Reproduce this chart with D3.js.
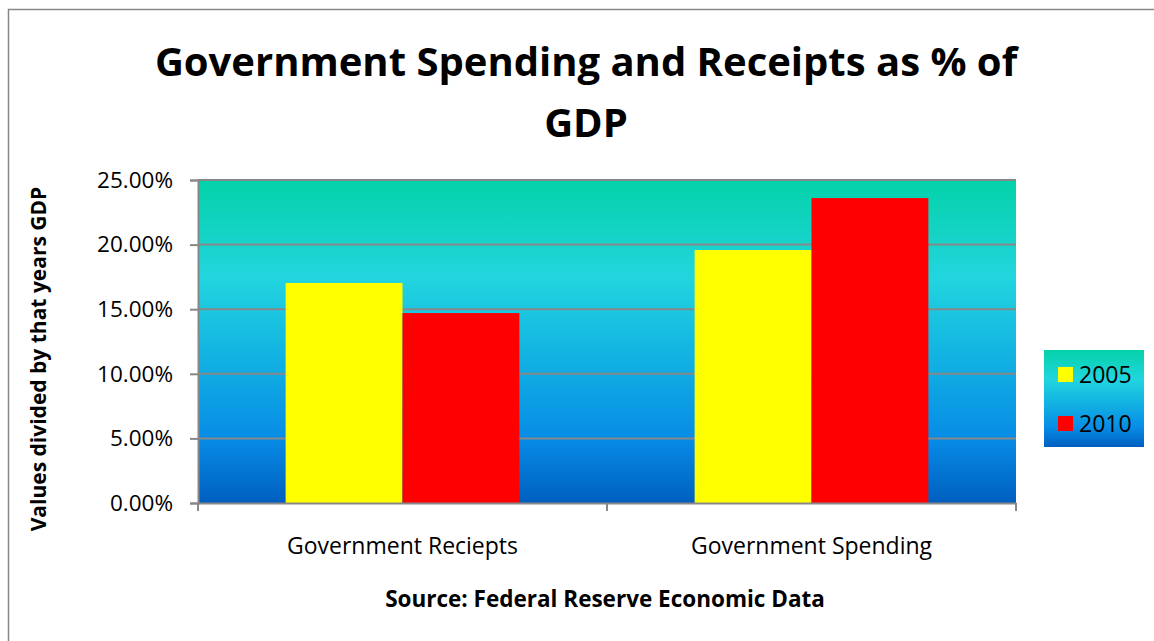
<!DOCTYPE html>
<html>
<head>
<meta charset="utf-8">
<script src="https://cdn.jsdelivr.net/npm/d3@7"></script>
<style>
  body { margin: 0; background: #fff; }
  text { font-family: "Open Sans", "Noto Sans", sans-serif; fill: #000; }
</style>
</head>
<body>
<script>
// data
var categories = ["Government Reciepts", "Government Spending"];
var years = ["2005", "2010"];
var values2005 = [0.1703, 0.1958];
var values2010 = [0.1470, 0.2360];
var yTicks = [0, 0.05, 0.10, 0.15, 0.20, 0.25];
var colors = ["#ffff00", "#ff0000"];

var W = 1154, H = 641;
var plot = {left: 198, right: 1016, top: 180, bottom: 503};

var svg = d3.select("body").append("svg")
    .attr("width", W).attr("height", H);

// background gradient shared by plot area and legend
var defs = svg.append("defs");
var grad = defs.append("linearGradient").attr("id", "bg")
    .attr("x1", 0).attr("y1", 0).attr("x2", 0).attr("y2", 1);
[[0, "#04d2a9"], [0.3, "#22d5de"], [0.55, "#12b2e2"], [0.8, "#078ce6"], [1, "#005fbf"]]
  .forEach(function(s) {
    grad.append("stop").attr("offset", s[0]).attr("stop-color", s[1]);
  });

// chart border
svg.append("rect")
    .attr("x", 8.5).attr("y", 9.5)
    .attr("width", W).attr("height", H)
    .attr("fill", "none").attr("stroke", "#888").attr("stroke-width", 1.5);

// title
var title = svg.append("text")
    .attr("text-anchor", "middle")
    .style("font-size", "40px").style("font-weight", "bold");
title.append("tspan").attr("x", 586).attr("y", 76).text("Government Spending and Receipts as % of");
title.append("tspan").attr("x", 586).attr("y", 137).text("GDP");

var x0 = d3.scaleBand().domain(categories)
    .range([plot.left, plot.right]).paddingInner(0).paddingOuter(0);
var x1 = d3.scaleBand().domain(years)
    .range([0, x0.bandwidth()]).paddingInner(0).paddingOuter(0.75);
var y = d3.scaleLinear().domain([0, 0.25]).range([plot.bottom, plot.top]);

svg.append("rect")
    .attr("x", plot.left).attr("y", plot.top)
    .attr("width", plot.right - plot.left).attr("height", plot.bottom - plot.top)
    .attr("fill", "url(#bg)");

// gridlines
svg.append("g").selectAll("line")
    .data(yTicks.slice(1))
    .enter().append("line")
    .attr("x1", plot.left).attr("x2", plot.right)
    .attr("y1", function(d) { return y(d); })
    .attr("y2", function(d) { return y(d); })
    .attr("stroke", "#888").attr("stroke-width", 2);

// bars
var rows = categories.map(function(c, i) {
  return [{cat: c, year: "2005", v: values2005[i]}, {cat: c, year: "2010", v: values2010[i]}];
});
svg.append("g").selectAll("g")
    .data(rows)
    .enter().append("g")
    .attr("transform", function(d) { return "translate(" + x0(d[0].cat) + ",0)"; })
    .selectAll("rect")
    .data(function(d) { return d; })
    .enter().append("rect")
    .attr("x", function(d) { return x1(d.year); })
    .attr("width", x1.bandwidth())
    .attr("y", function(d) { return y(d.v); })
    .attr("height", function(d) { return y(0) - y(d.v); })
    .attr("fill", function(d, i) { return colors[i]; });

// y axis
var yAxis = svg.append("g")
    .attr("transform", "translate(" + plot.left + ",0)")
    .call(d3.axisLeft(y).tickValues(yTicks).tickFormat(d3.format(".2%")).tickSizeOuter(0).tickSize(8).tickPadding(17));
yAxis.selectAll("path, line").attr("stroke", "#888").attr("stroke-width", 2);
yAxis.selectAll("text").style("font-size", "22.5px").style("font-family", "'Open Sans', sans-serif").attr("fill", "#000");

// x axis
var xAxis = svg.append("g")
    .attr("transform", "translate(0," + plot.bottom + ")")
    .call(d3.axisBottom(x0).tickSize(0).tickPadding(35));
xAxis.select("path").attr("stroke", "#888").attr("stroke-width", 2);
xAxis.selectAll("text").style("font-size", "23px").style("font-family", "'Open Sans', sans-serif").attr("fill", "#000");
var bounds = [plot.left, x0(categories[1]), plot.right];
xAxis.selectAll(".sep").data(bounds).enter().append("line")
    .attr("x1", function(d) { return d; }).attr("x2", function(d) { return d; })
    .attr("y1", 0).attr("y2", 8)
    .attr("stroke", "#888").attr("stroke-width", 2);

// axis titles
svg.append("text")
    .attr("transform", "translate(46,359) rotate(-90)")
    .attr("text-anchor", "middle")
    .style("font-size", "21px").style("font-weight", "bold")
    .text("Values divided by that years GDP");
svg.append("text")
    .attr("x", 605).attr("y", 607)
    .attr("text-anchor", "middle")
    .style("font-size", "22.5px").style("font-weight", "bold")
    .text("Source: Federal Reserve Economic Data");

// legend
var legend = svg.append("g").attr("transform", "translate(1044,350)");
legend.append("rect").attr("width", 100).attr("height", 97).attr("fill", "url(#bg)");
var item = legend.selectAll(".item").data(years).enter().append("g")
    .attr("transform", function(d, i) { return "translate(14," + (17 + i * 49) + ")"; });
item.append("rect").attr("width", 15).attr("height", 15)
    .attr("fill", function(d, i) { return colors[i]; });
item.append("text").attr("x", 21).attr("y", 16)
    .style("font-size", "23px")
    .text(function(d) { return d; });
</script>
</body>
</html>
